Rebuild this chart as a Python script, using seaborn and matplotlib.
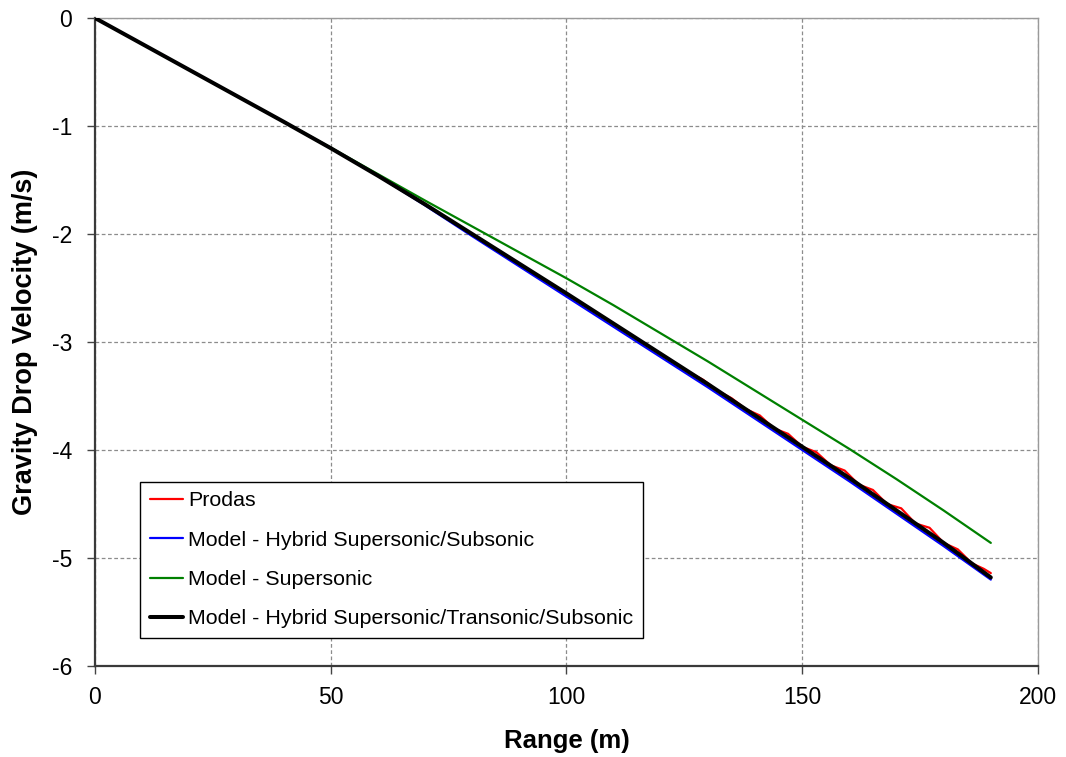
import matplotlib
matplotlib.use("Agg")
import matplotlib.pyplot as plt
import seaborn as sns
import pandas as pd

# ---- data ----
x_black = [0, 10, 20, 30, 40, 50, 60, 70, 80, 90, 100, 110, 120, 130, 140, 150, 160, 170, 180, 190]
y_black = [0, -0.24, -0.48, -0.72, -0.96, -1.205, -1.46, -1.725, -2.00, -2.275, -2.55, -2.83,
           -3.11, -3.39, -3.68, -3.97, -4.26, -4.56, -4.86, -5.18]

x_blue = [0, 10, 20, 30, 40, 50, 60, 70, 80, 90, 100, 110, 120, 130, 140, 150, 160, 170, 180, 190]
y_blue = [0, -0.24, -0.48, -0.72, -0.96, -1.205, -1.46, -1.735, -2.02, -2.30, -2.58, -2.86,
          -3.14, -3.42, -3.71, -4.00, -4.29, -4.59, -4.89, -5.20]

x_green = [0, 10, 20, 30, 40, 50, 60, 70, 80, 90, 100, 110, 120, 130, 140, 150, 160, 170, 180, 190]
y_green = [0, -0.24, -0.48, -0.72, -0.96, -1.20, -1.445, -1.69, -1.93, -2.17, -2.41, -2.66,
           -2.92, -3.18, -3.45, -3.72, -3.99, -4.27, -4.56, -4.86]

x_red = [0, 10, 20, 30, 40, 50, 60, 70, 80, 90, 100, 110, 120, 126, 129, 132, 135, 138, 141,
         144, 147, 150, 153, 156, 159, 162, 165, 168, 171, 174, 177, 180, 183, 186, 188.5, 190]
y_red = [0, -0.24, -0.48, -0.72, -0.96, -1.205, -1.46, -1.725, -2.00, -2.275, -2.55, -2.83, -3.11,
         -3.28, -3.35, -3.45, -3.52, -3.62, -3.68, -3.80, -3.85, -3.97, -4.02, -4.14, -4.19,
         -4.32, -4.37, -4.50, -4.54, -4.68, -4.72, -4.86, -4.92, -5.05, -5.10, -5.14]

series_names = ["Prodas", "Model - Hybrid Supersonic/Subsonic", "Model - Supersonic",
                "Model - Hybrid Supersonic/Transonic/Subsonic"]
x_ticks = [0, 50, 100, 150, 200]
y_ticks = [0, -1, -2, -3, -4, -5, -6]

sns.set_theme(style="white")
plt.rcParams["font.family"] = ["Liberation Sans", "DejaVu Sans"]
plt.rcParams["text.color"] = "black"
plt.rcParams["axes.labelcolor"] = "black"
plt.rcParams["xtick.color"] = "black"
plt.rcParams["ytick.color"] = "black"

fig = plt.figure(figsize=(10.66, 7.57), dpi=100)
ax = fig.add_axes([0.0891, 0.1202, 0.9737 - 0.0891, 0.9762 - 0.1202])

data = [(x_red, y_red, "#ff0000", 1.6),
        (x_blue, y_blue, "#0000ff", 1.6),
        (x_green, y_green, "#008000", 1.6),
        (x_black, y_black, "#000000", 2.9)]
for (xs, ys, col, lw), name in zip(data, series_names):
    df = pd.DataFrame({"Range": xs, "Vel": ys})
    sns.lineplot(data=df, x="Range", y="Vel", ax=ax, color=col, linewidth=lw,
                 label=name, estimator=None, sort=False, zorder=3)

ax.set_xlim(0, 200)
ax.set_ylim(-6, 0)
ax.set_xticks(x_ticks)
ax.set_yticks(y_ticks)
ax.set_xticklabels([str(v) for v in x_ticks], fontsize=16.5)
ax.set_yticklabels([str(v) for v in y_ticks], fontsize=16.5)
ax.grid(True, linestyle=(0, (3, 2)), color="#8c8c8c", linewidth=0.9)
ax.tick_params(axis="both", direction="out", length=5.5, width=1, color="#444444",
               bottom=True, left=True)
ax.tick_params(axis="y", pad=11)
ax.tick_params(axis="x", pad=9)

for side in ["top", "right"]:
    ax.spines[side].set_color("#9a9a9a")
    ax.spines[side].set_linewidth(1.0)
for side in ["left", "bottom"]:
    ax.spines[side].set_color("#3a3a3a")
    ax.spines[side].set_linewidth(1.6)

ax.set_xlabel("Range (m)", fontsize=18.5, fontweight="bold", labelpad=14)
ax.set_ylabel("Gravity Drop Velocity (m/s)", fontsize=19.5, fontweight="bold", labelpad=10)

leg = ax.legend(loc="lower left", bbox_to_anchor=(0.0477, 0.0432), fontsize=15.4,
                frameon=True, fancybox=False, handlelength=1.55, handletextpad=0.25,
                labelspacing=0.95, borderpad=0.45, borderaxespad=0)
leg.get_frame().set_edgecolor("#000000")
leg.get_frame().set_linewidth(1.0)
leg.get_frame().set_alpha(1)

fig.savefig("out.png", dpi=100)
